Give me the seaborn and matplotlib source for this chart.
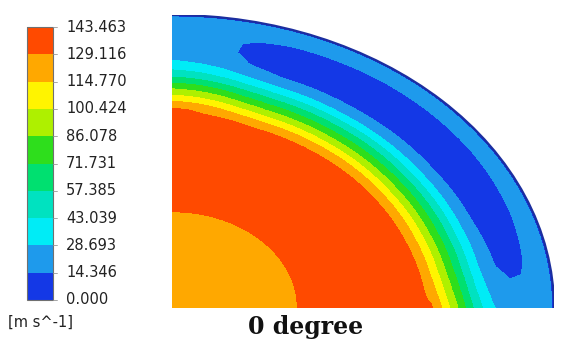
import numpy as np
import matplotlib
matplotlib.use("Agg")
import matplotlib.pyplot as plt
from matplotlib.colors import ListedColormap, BoundaryNorm
from matplotlib.patches import Rectangle, Arc
import seaborn as sns

# Contour levels of the velocity magnitude [m s^-1]
levels = [0.000, 14.346, 28.693, 43.039, 57.385, 71.731,
          86.078, 100.424, 114.770, 129.116, 143.463]
level_colors = ["#1438e6", "#1e9aec", "#00ecf6", "#00e2c0", "#00e070",
                "#2ede1c", "#aef000", "#fff400", "#ffa800", "#ff4a00"]

# Velocity profiles along the normalised radius of the quarter section
r_nodes = [0.00, 0.33, 0.50, 0.64, 0.66, 0.68, 0.70, 0.72, 0.74, 0.76, 0.78,
           0.80, 0.82, 0.84, 0.86, 0.89, 0.92, 0.95, 0.975, 0.993, 1.00]
# near the two symmetry edges (0 and 90 degrees)
v_edge = [121, 129.2, 137, 134, 133, 131, 120, 106, 93, 79, 64,
          51, 40, 31, 25, 22, 21, 22, 21, 17, 8]
# across the middle of the section (around 45 degrees)
v_middle = [121, 129.2, 136, 131, 127, 112, 98, 84, 70, 56, 42,
            29, 19, 12, 8, 6, 8, 15, 19, 17, 8]
# how strongly each angle follows the middle profile
theta_nodes = [0, 5, 10, 20, 35, 55, 70, 75, 80, 85, 90]
middle_weight = [0.0, 0.4, 0.65, 0.85, 1.0, 1.0, 0.9, 0.72, 0.4, 0.15, 0.0]

sns.set_theme(style="white")
plt.rcParams["font.family"] = ["DejaVu Sans"]

W, H = 564, 349
fig = plt.figure(figsize=(W / 100, H / 100), dpi=100)
fig.patch.set_facecolor("white")

cmap = ListedColormap(level_colors)
norm = BoundaryNorm(levels, cmap.N)

# ---- velocity field on the quarter section ----
nx, ny = 382, 293
x0, y0 = 172, 308  # centre of the section in pixels (bottom-left corner)
ax = fig.add_axes([x0 / W, (H - y0) / H, nx / W, ny / H])
xn = (np.arange(nx) + 0.5) / nx
yn = 1.0 - (np.arange(ny) + 0.5) / ny
X, Y = np.meshgrid(xn, yn)
R = np.hypot(X, Y)
T = np.degrees(np.arctan2(Y, X))
w = np.interp(T, theta_nodes, middle_weight)
V = (1 - w) * np.interp(R, r_nodes, v_edge) + w * np.interp(R, r_nodes, v_middle)
V = np.clip(V, levels[0] + 0.01, levels[-1] - 0.01)

sns.heatmap(V, mask=R > 1.0, cmap=cmap, norm=norm, cbar=False,
            xticklabels=False, yticklabels=False, ax=ax,
            linewidths=0, rasterized=True)
ax.set_xlim(0, nx)
ax.set_ylim(ny, 0)
ax.axis("off")
# outer wall of the section
ax.add_patch(Arc((0, ny), 2 * nx, 2 * ny, theta1=-90, theta2=0,
                 color="#1c2e9e", lw=1.6))

# ---- colour legend ----
cb_top, cb_bot = 27, 300
cax = fig.add_axes([27 / W, (H - cb_bot) / H, 26 / W, (cb_bot - cb_top) / H])
mids = np.array([(a + b) / 2 for a, b in zip(levels[:-1], levels[1:])])[::-1]
sns.heatmap(mids.reshape(-1, 1), cmap=cmap, norm=norm, cbar=False,
            xticklabels=False, yticklabels=False, ax=cax, linewidths=0)
cax.add_patch(Rectangle((0, 0), 1, len(mids), fill=False,
                        edgecolor="#707070", lw=0.8, clip_on=False))
cax.axis("off")

step = (cb_bot - cb_top) / (len(levels) - 1)
for k, val in enumerate(levels[::-1]):
    ypx = cb_top + k * step
    fig.text(66 / W, 1 - ypx / H, f"{val:.3f}", fontsize=10.5,
             color="#222222", ha="left", va="center")
    fig.add_artist(plt.Line2D([53 / W, 57 / W], [1 - ypx / H] * 2,
                              color="#999999", lw=0.6))

fig.text(8 / W, 1 - 322 / H, "[m s^-1]", fontsize=10.5, color="#222222",
         ha="left", va="center")

fig.text(306 / W, 1 - 334 / H, "0 degree", fontsize=17, fontweight="bold",
         family="DejaVu Serif", color="#111111", ha="center", va="baseline")

fig.savefig("out.png", dpi=100, facecolor="white")
